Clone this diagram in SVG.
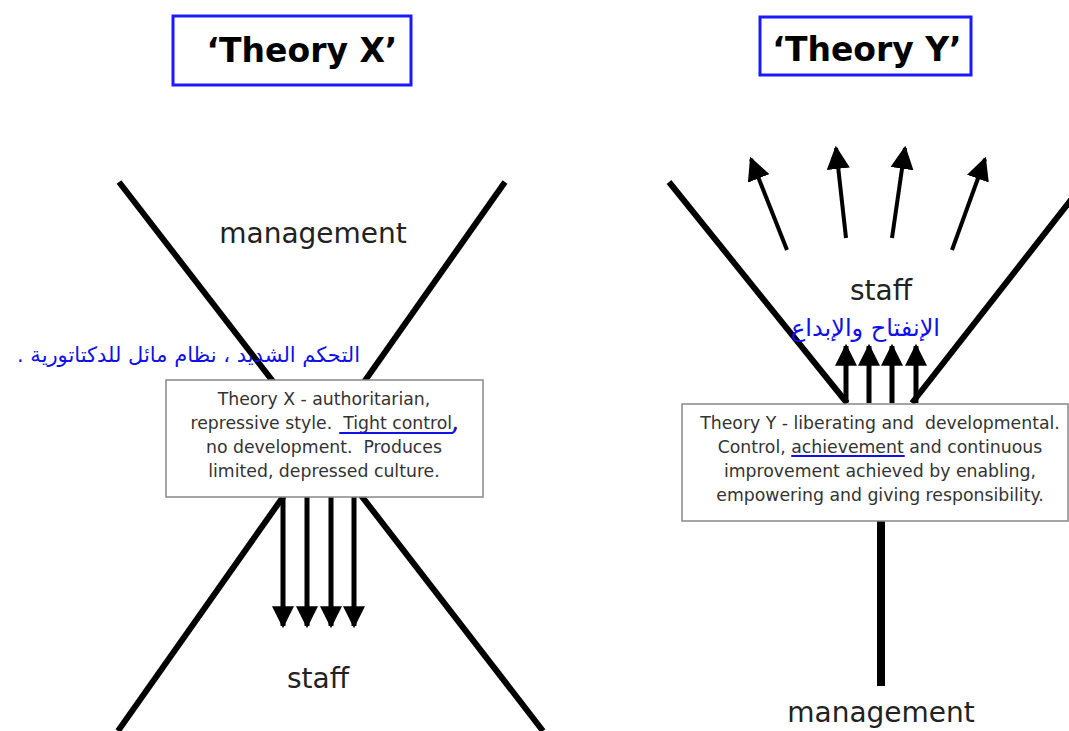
<svg xmlns="http://www.w3.org/2000/svg" width="1069" height="731" viewBox="0 0 1069 731">
  <style>
    .title { font-family: "DejaVu Sans", Verdana, sans-serif; font-weight: bold; font-size: 33px; fill: #000; text-anchor: middle; }
    .titlebox { fill: #fff; stroke: #1a1aff; stroke-width: 3; }
    .label { font-family: "DejaVu Sans", Verdana, sans-serif; font-size: 28px; fill: #222; text-anchor: middle; }
    .body { font-family: "DejaVu Sans", Verdana, sans-serif; font-size: 17.3px; fill: #333; text-anchor: middle; }
    .box { fill: #fff; stroke: #888; stroke-width: 1.5; }
    .bar { stroke: #000; stroke-width: 6; fill: none; stroke-linecap: butt; }
    .shaft { stroke: #000; stroke-width: 5; fill: none; }
    .fan { stroke: #000; stroke-width: 4; fill: none; }
    .note { font-family: "DejaVu Sans", "Noto Sans", sans-serif; fill: #1010e8; }
    .ink { stroke: #1010e8; stroke-width: 2; fill: none; stroke-linecap: round; }
  </style>
  <defs>
    <marker id="head" viewBox="0 0 10 10" refX="9" refY="5" markerWidth="4.4" markerHeight="4.4" orient="auto" markerUnits="strokeWidth">
      <path d="M0,0 L10,5 L0,10 z" fill="#000"/>
    </marker>
    <marker id="headFan" viewBox="0 0 10 10" refX="9" refY="5" markerWidth="5.8" markerHeight="5.8" orient="auto" markerUnits="strokeWidth">
      <path d="M0,0 L10,5 L0,10 z" fill="#000"/>
    </marker>
  </defs>
  <rect width="1069" height="731" fill="#fff"/>

  <!-- connectors: the bars and arrows of both diagrams -->
  <g id="connectors">
    <!-- Theory X: crossed bars -->
    <line class="bar" x1="119" y1="182" x2="543" y2="731"/>
    <line class="bar" x1="505" y1="182" x2="118" y2="731"/>
    <!-- Theory X: control pushed down onto staff -->
    <line class="shaft" x1="283" y1="497" x2="283" y2="626" marker-end="url(#head)"/>
    <line class="shaft" x1="307" y1="497" x2="307" y2="626" marker-end="url(#head)"/>
    <line class="shaft" x1="331" y1="497" x2="331" y2="626" marker-end="url(#head)"/>
    <line class="shaft" x1="354" y1="497" x2="354" y2="626" marker-end="url(#head)"/>

    <!-- Theory Y: opening funnel -->
    <line class="bar" x1="669" y1="182" x2="847" y2="403"/>
    <line class="bar" x1="1085" y1="182" x2="912" y2="403"/>
    <line x1="881" y1="520" x2="881" y2="686" stroke="#000" stroke-width="8"/>
    <!-- Theory Y: growth upwards -->
    <line class="shaft" x1="846" y1="403" x2="846" y2="346" marker-end="url(#head)"/>
    <line class="shaft" x1="869" y1="403" x2="869" y2="346" marker-end="url(#head)"/>
    <line class="shaft" x1="892" y1="403" x2="892" y2="346" marker-end="url(#head)"/>
    <line class="shaft" x1="916" y1="403" x2="916" y2="346" marker-end="url(#head)"/>
    <line class="fan" x1="787" y1="250" x2="751" y2="159" marker-end="url(#headFan)"/>
    <line class="fan" x1="846" y1="238" x2="836" y2="148" marker-end="url(#headFan)"/>
    <line class="fan" x1="892" y1="238" x2="905" y2="148" marker-end="url(#headFan)"/>
    <line class="fan" x1="952" y1="250" x2="985" y2="159" marker-end="url(#headFan)"/>
  </g>

  <g id="title-x">
    <rect class="titlebox" x="173" y="16" width="238" height="69"/>
    <text class="title" x="302" y="62">‘Theory X’</text>
  </g>
  <g id="title-y">
    <rect class="titlebox" x="760" y="17" width="211" height="58"/>
    <text class="title" x="867" y="61">‘Theory Y’</text>
  </g>

  <g id="x-management">
    <text class="label" x="313" y="243">management</text>
  </g>
  <g id="x-staff">
    <text class="label" x="318" y="688">staff</text>
  </g>

  <g id="x-box">
    <rect class="box" x="166" y="380" width="317" height="117"/>
    <text class="body" x="324" y="405">Theory X - authoritarian,</text>
    <text class="body" x="324" y="429" xml:space="preserve">repressive style.  Tight control,</text>
    <text class="body" x="324" y="453" xml:space="preserve">no development.  Produces</text>
    <text class="body" x="324" y="477">limited, depressed culture.</text>
    <path class="ink" d="M340,433 L452,433 Q455,432 456,428"/>
  </g>

  <g id="x-note">
    <text class="note" x="360" y="362" font-size="21" direction="rtl" text-anchor="start">التحكم الشديد ، نظام مائل للدكتاتورية .</text>
  </g>

  <g id="y-staff">
    <text class="label" x="881" y="300">staff</text>
  </g>
  <g id="y-note">
    <text class="note" x="940" y="336" font-size="24" direction="rtl" text-anchor="start">الإنفتاح والإبداع</text>
  </g>

  <g id="y-box">
    <rect class="box" x="682" y="404" width="386" height="117"/>
    <text class="body" x="880" y="429" xml:space="preserve">Theory Y - liberating and  developmental.</text>
    <text class="body" x="880" y="453">Control, achievement and continuous</text>
    <text class="body" x="880" y="477">improvement achieved by enabling,</text>
    <text class="body" x="880" y="501">empowering and giving responsibility.</text>
    <path class="ink" d="M792,456 L904,456"/>
  </g>

  <g id="y-management">
    <text class="label" x="881" y="722">management</text>
  </g>
</svg>
